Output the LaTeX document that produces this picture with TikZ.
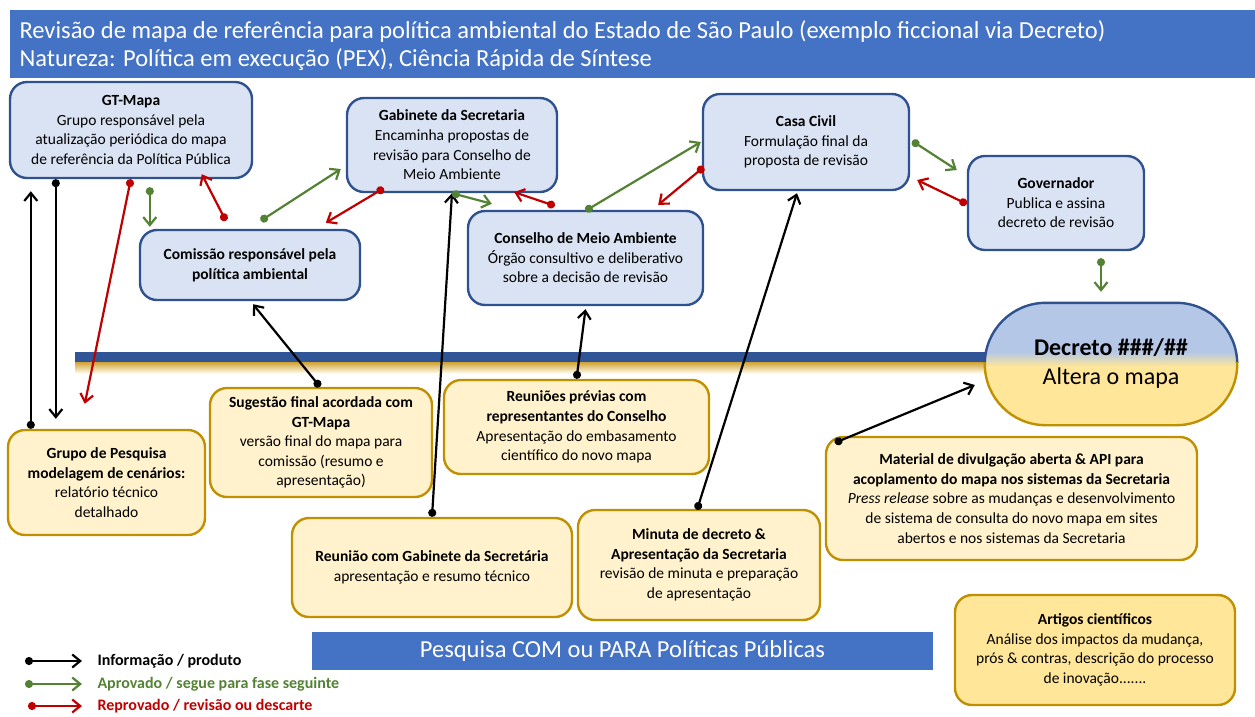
\documentclass[tikz,border=0pt]{standalone}
\usepackage{fontspec}
\setmainfont{Carlito}
\usetikzlibrary{arrows.meta,calc}
\definecolor{titleblue}{HTML}{4472C4}
\definecolor{boxfill}{HTML}{DAE3F3}
\definecolor{boxline}{HTML}{2F528F}
\definecolor{notefill}{HTML}{FFF2CC}
\definecolor{noteline}{HTML}{BF9000}
\definecolor{notedark}{HTML}{FFE699}
\definecolor{okgreen}{HTML}{548235}
\definecolor{nokred}{HTML}{C00000}
\definecolor{bandblue}{HTML}{2F5597}
\definecolor{bandgold}{HTML}{CFA233}
\definecolor{decblue}{HTML}{B4C7E7}
\pgfdeclareverticalshading{decshade}{100bp}{color(0bp)=(notedark); color(49bp)=(notedark); color(55bp)=(decblue); color(100bp)=(decblue)}
\newcommand{\boxtext}{\fontsize{15.5}{19.6}\selectfont}
\newcommand{\headtext}{\fontsize{24.5}{28}\selectfont}
\tikzset{
	boxsize/.style 2 args={minimum width=#1, minimum height=#2},
	bluebox/.style={draw=boxline, line width=2.4pt, fill=boxfill, rounded corners=17pt, align=center, font=\boxtext, inner sep=0pt},
	notebox/.style={draw=noteline, line width=2.4pt, fill=notefill, rounded corners=17pt, align=center, font=\boxtext, inner sep=0pt},
	link/.style={line width=2.2pt, {Circle[length=8pt]}-{Straight Barb[length=8pt, width=13pt]}},
	info/.style={link, black},
	ok/.style={link, okgreen},
	nok/.style={link, nokred},
	legend/.style={anchor=west, font=\fontsize{16}{18}\selectfont\bfseries}
}
\begin{document}
\begin{tikzpicture}[x=1pt, y=-1pt]
	\useasboundingbox (0,0) rectangle (1255,716);
	% title
	\node[fill=titleblue, anchor=north west, minimum width=1245, minimum height=68, inner sep=0pt] (titlebar) at (10,10) {};
	\node[anchor=west, text=white, font=\headtext] (title1) at (16,32) {Revisão de mapa de referência para política ambiental do Estado de São Paulo (exemplo ficcional via Decreto)};
	\node[anchor=west, text=white, font=\headtext] (title2) at (16,60) {Natureza: Política em execução (PEX), Ciência Rápida de Síntese};
	% band
	\fill[bandblue] (75,352) rectangle (1000,362);
	\shade[top color=bandgold, bottom color=notefill!40] (75,362) rectangle (1000,373);
	% blue boxes
	\node[bluebox, boxsize={242}{96}] (gtmapa) at (131,130) {\textbf{GT-Mapa}\\Grupo responsável pela\\atualização periódica do mapa\\de referência da Política Pública};
	\node[bluebox, boxsize={220}{70}] (comissao) at (250,265) {\textbf{Comissão responsável pela}\\\textbf{política ambiental}};
	\node[bluebox, boxsize={210}{94}] (gabinete) at (452,145) {\textbf{Gabinete da Secretaria}\\Encaminha propostas de\\revisão para Conselho de\\Meio Ambiente};
	\node[bluebox, boxsize={235}{94}] (conselho) at (585.5,258) {\textbf{Conselho de Meio Ambiente}\\Órgão consultivo e deliberativo\\sobre a decisão de revisão};
	\node[bluebox, boxsize={206}{96}] (casacivil) at (806,142) {\textbf{Casa Civil}\\Formulação final da\\proposta de revisão};
	\node[bluebox, boxsize={176}{94}] (governador) at (1056,203) {\textbf{Governador}\\Publica e assina\\decreto de revisão};
	% decree
	\node[boxsize={252}{122}, rounded corners=61pt, shading=decshade, align=center, inner sep=0pt, font=\fontsize{24}{29}\selectfont] (decreto) at (1111,364) {\textbf{Decreto \#\#\#/\#\#}\\Altera o mapa};
	\begin{scope}
		\clip ($(decreto.north west)+(-5,-5)$) rectangle ($(decreto.east)+(5,-2)$);
		\draw[boxline, line width=2.4pt, rounded corners=61pt] (decreto.south west) rectangle (decreto.north east);
	\end{scope}
	\begin{scope}
		\clip ($(decreto.south west)+(-5,5)$) rectangle ($(decreto.east)+(5,-2)$);
		\draw[noteline, line width=2.4pt, rounded corners=61pt] (decreto.south west) rectangle (decreto.north east);
	\end{scope}
	% yellow boxes
	\node[notebox, boxsize={197}{105}] (grupo) at (106.5,482.5) {\textbf{Grupo de Pesquisa}\\\textbf{modelagem de cenários:}\\relatório técnico\\detalhado};
	\node[notebox, boxsize={222}{109}] (sugestao) at (321,442.5) {\textbf{Sugestão final acordada com}\\\textbf{GT-Mapa}\\versão final do mapa para\\comissão (resumo e\\apresentação)};
	\node[notebox, boxsize={265}{94}] (reunioes) at (576.5,427) {\textbf{Reuniões prévias com}\\\textbf{representantes do Conselho}\\Apresentação do embasamento\\científico do novo mapa};
	\node[notebox, boxsize={280}{99}] (reuniao) at (432,567.5) {\textbf{Reunião com Gabinete da Secretária}\\apresentação e resumo técnico};
	\node[notebox, boxsize={242}{110}] (minuta) at (699,565) {\textbf{Minuta de decreto \&}\\\textbf{Apresentação da Secretaria}\\revisão de minuta e preparação\\de apresentação};
	\node[notebox, boxsize={371}{123}] (material) at (1011.5,498.5) {\textbf{Material de divulgação aberta \& API para}\\\textbf{acoplamento do mapa nos sistemas da Secretaria}\\\textit{Press release} sobre as mudanças e desenvolvimento\\de sistema de consulta do novo mapa em sites\\abertos e nos sistemas da Secretaria};
	\node[notebox, fill=notedark, boxsize={280}{110}] (artigos) at (1095,650) {\textbf{Artigos científicos}\\Análise dos impactos da mudança,\\prós \& contras, descrição do processo\\de inovação.......};
	\node[fill=titleblue, boxsize={621}{38}, inner sep=0pt, text=white, font=\headtext] (pesquisa) at (622.5,651) {Pesquisa COM ou PARA Políticas Públicas};
	% connectors
	\draw[info] ($(grupo.north west)+(24,0)$) -- ($(gtmapa.south west)+(22,12)$);
	\draw[info] ($(gtmapa.south west)+(47,0)$) -- ($(grupo.north west)+(49,-10)$);
	\draw[nok] ($(gtmapa.south west)+(122,0)$) -- ($(grupo.north west)+(78,-25)$);
	\draw[ok] ($(gtmapa.south west)+(141,8)$) -- ($(comissao.north west)+(11,-2)$);
	\draw[nok] ($(comissao.north west)+(87,-8)$) -- ($(gtmapa.south west)+(193,-5)$);
	\draw[ok] ($(comissao.north west)+(122,-8)$) -- ($(gabinete.west)+(-5,24)$);
	\draw[nok] ($(gabinete.south west)+(38,-5)$) -- ($(comissao.north west)+(187,-6)$);
	\draw[info] ($(sugestao.north)+(-1,0)$) -- ($(comissao.south)+(3,3)$);
	\draw[info] (reuniao.north) -- (gabinete.south);
	\draw[ok] (gabinete.south) -- ($(conselho.north west)+(25,-6)$);
	\draw[nok] ($(conselho.north west)+(88,-4)$) -- ($(gabinete.south east)+(-44,-1)$);
	\draw[ok] ($(conselho.north)+(0,1)$) -- ($(casacivil.west)+(-1,0)$);
	\draw[nok] ($(casacivil.west)+(2,25)$) -- ($(conselho.north east)+(-46,-5)$);
	\draw[info] (reunioes.north) -- ($(conselho.south)+(0,3)$);
	\draw[info] ($(minuta.north)+(-2,1)$) -- ($(casacivil.south)+(-9,2)$);
	\draw[ok] ($(casacivil.east)+(2,-1)$) -- ($(governador.west)+(-10,-33)$);
	\draw[nok] ($(governador.west)+(0,1)$) -- ($(casacivil.east)+(7,38)$);
	\draw[ok] ($(governador.south)+(45,7)$) -- ($(decreto.north)+(-10,-11)$);
	\draw[info] ($(material.north west)+(10,7)$) -- ($(decreto.west)+(-10,21)$);
	% legend
	\node[legend, text=black] (leginfo) at (94,661) {Informação / produto};
	\node[legend, text=okgreen] (legok) at (94,684) {Aprovado / segue para fase seguinte};
	\node[legend, text=nokred] (legnok) at (94,706) {Reprovado / revisão ou descarte};
	\draw[info] ($(leginfo.west)+(-69,0)$) -- ($(leginfo.west)+(-12,0)$);
	\draw[ok] ($(legok.west)+(-69,0)$) -- ($(legok.west)+(-12,0)$);
	\draw[nok] ($(legnok.west)+(-66,0)$) -- ($(legnok.west)+(-12,0)$);
\end{tikzpicture}
\end{document}
